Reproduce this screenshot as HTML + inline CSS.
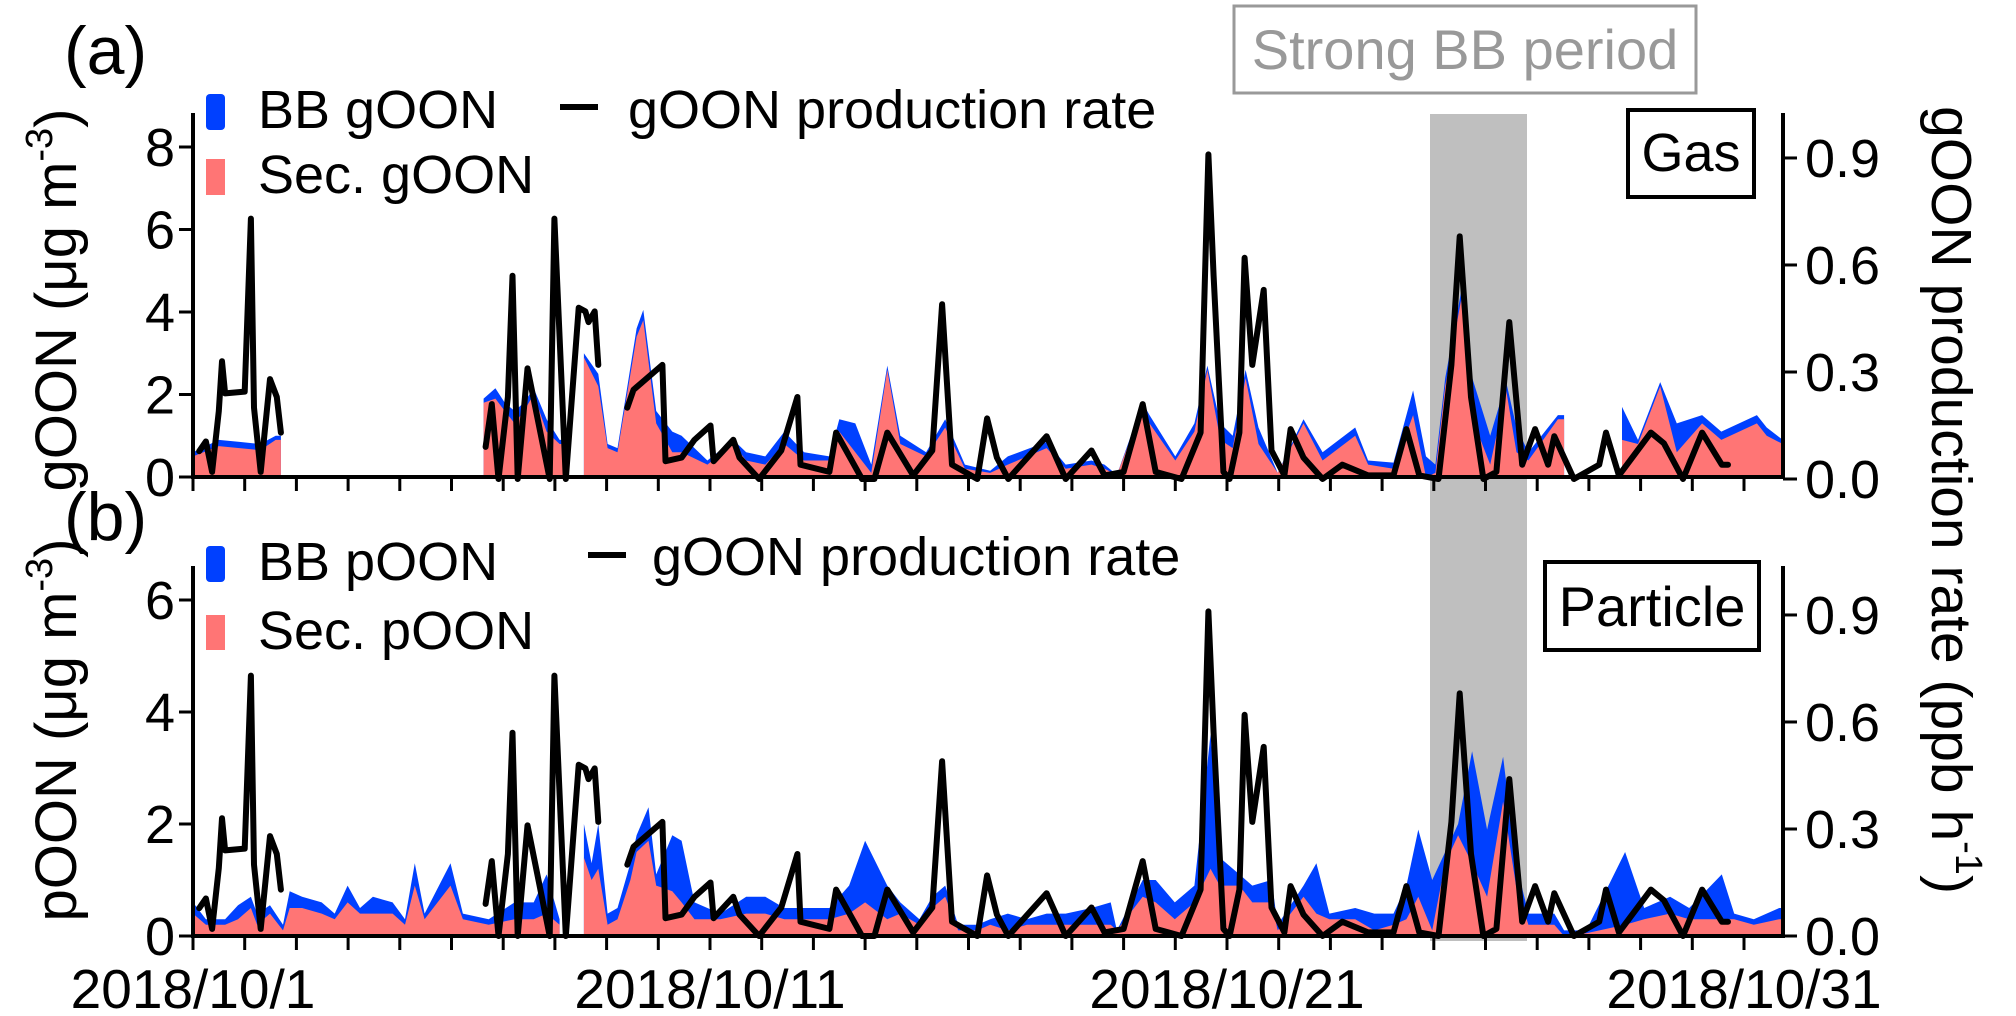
<!DOCTYPE html>
<html><head><meta charset="utf-8"><style>
html,body{margin:0;padding:0;background:#fff;}
svg{display:block;font-family:"Liberation Sans",Arial,sans-serif;}
</style></head><body>
<svg id="chart" width="2016" height="1016" viewBox="0 0 2016 1016" xmlns="http://www.w3.org/2000/svg">
<rect x="1430" y="114" width="97" height="827" fill="#bfbfbf"/>
<g id="areas"></g>
<g id="lines"></g>
<g id="axes"></g>
<g>
<rect x="1234" y="6" width="462" height="87" fill="#fff" stroke="#999" stroke-width="3"/>
<text x="1465" y="69" font-size="56" fill="#999" text-anchor="middle">Strong BB period</text>
</g>
<g>
<rect x="1628" y="110" width="126" height="87" fill="#fff" stroke="#000" stroke-width="4"/>
<text x="1691" y="171" font-size="54" text-anchor="middle">Gas</text>
</g>
<g>
<rect x="1545" y="562" width="214" height="88" fill="#fff" stroke="#000" stroke-width="4"/>
<text x="1652" y="626" font-size="56" text-anchor="middle">Particle</text>
</g>
<text x="64" y="74" font-size="68">(a)</text>
<text x="64" y="540" font-size="68">(b)</text>
<g>
<rect x="206" y="94" width="19" height="36" rx="4" fill="#0040ff"/>
<text x="258" y="128" font-size="54">BB gOON</text>
<rect x="206" y="159" width="19" height="36" fill="#ff7575"/>
<text x="258" y="193" font-size="54">Sec. gOON</text>
<rect x="560" y="104" width="38" height="6" fill="#000"/>
<text x="628" y="128" font-size="54">gOON production rate</text>
</g>
<g>
<rect x="206" y="546" width="19" height="36" rx="4" fill="#0040ff"/>
<text x="258" y="580" font-size="54">BB pOON</text>
<rect x="206" y="615" width="19" height="35" fill="#ff7575"/>
<text x="258" y="649" font-size="54">Sec. pOON</text>
<rect x="588" y="552" width="38" height="6" fill="#000"/>
<text x="652" y="575" font-size="54">gOON production rate</text>
</g>
<text transform="translate(76,300) rotate(-90)" font-size="58" text-anchor="middle">gOON (μg m<tspan dy="-24" font-size="38">-3</tspan><tspan dy="24">)</tspan></text>
<text transform="translate(76,730) rotate(-90)" font-size="58" text-anchor="middle">pOON (μg m<tspan dy="-24" font-size="38">-3</tspan><tspan dy="24">)</tspan></text>
<text transform="translate(1932,500) rotate(90)" font-size="57" text-anchor="middle">gOON production rate (ppb h<tspan dy="-24" font-size="38">-1</tspan><tspan dy="24">)</tspan></text>
</svg>
<script>
const gasDays=[0,0.5,0.9,1.3,1.6,1.7,null,5.62,5.85,6.03,6.22,6.4,6.59,6.84,7.09,7.21,null,7.56,7.84,8.02,8.21,8.58,8.71,8.96,9.27,9.45,9.95,10.45,10.7,11.07,11.44,11.82,12.31,12.5,12.81,13.12,13.43,13.68,14.18,14.55,14.93,15.42,15.76,16.51,16.88,17.38,17.63,17.87,18.37,18.5,19.0,19.37,19.62,19.87,20.11,20.36,20.61,20.98,21.48,21.85,22.48,22.73,23.22,23.6,23.85,24.03,24.22,24.53,24.72,25.09,25.4,25.6,25.83,26.4,26.52,null,27.64,27.95,28.38,28.7,29.19,29.56,30.25,30.44,30.75];
const gasTotal=[0.6,0.9,0.85,0.8,1.0,1.0,null,1.9,2.15,1.8,1.6,1.8,2.15,1.4,0.9,0.9,null,3.0,2.5,0.8,0.7,3.6,4.05,1.6,1.1,1.0,0.4,0.9,0.6,0.5,1.1,0.6,0.5,1.4,1.3,0.3,2.7,1.0,0.6,1.4,0.3,0.15,0.5,0.85,0.3,0.4,0.3,0.05,1.8,1.5,0.5,1.3,2.7,1.3,1.0,2.6,1.2,0.1,1.4,0.6,1.2,0.4,0.35,2.1,0.5,0.3,2.4,4.5,2.5,1.0,2.3,1.2,0.6,1.5,1.5,null,1.7,0.9,2.3,1.3,1.5,1.1,1.5,1.2,0.9];
const gasSec=[0.5,0.75,0.7,0.65,0.9,0.9,null,1.8,1.9,1.6,1.3,1.6,2.0,1.1,0.8,0.8,null,2.9,2.2,0.7,0.6,3.4,3.8,1.3,0.6,0.6,0.3,0.8,0.4,0.3,0.8,0.4,0.4,1.1,0.6,0.1,2.6,0.8,0.5,1.2,0.2,0.1,0.3,0.7,0.2,0.3,0.2,0.05,1.7,1.3,0.4,1.1,2.6,0.9,0.7,2.4,0.8,0.1,1.3,0.4,1.0,0.3,0.2,1.5,0.0,0.1,2.2,4.3,1.5,0.3,2.1,0.6,0.4,1.4,1.4,null,0.9,0.8,2.2,0.6,1.3,0.9,1.3,1.0,0.8];
const partDays=[0,0.25,0.62,0.87,1.12,1.24,1.49,1.74,1.87,2.11,2.49,2.74,2.99,3.23,3.48,3.86,4.1,4.29,4.48,4.98,5.22,5.72,6.22,6.59,6.84,7.09,null,7.56,7.71,7.84,8.02,8.21,8.46,8.58,8.81,8.96,9.27,9.45,9.7,10.2,10.7,11.07,11.44,11.82,12.31,12.69,13.0,13.43,13.68,14.05,14.3,14.55,14.8,15.17,15.42,15.76,16.13,16.51,16.88,17.38,17.75,17.87,18.37,18.62,18.99,19.37,19.68,19.86,20.24,20.49,20.86,20.98,21.48,21.73,21.98,22.48,22.85,23.22,23.47,23.7,23.97,24.22,24.47,24.74,25.03,25.34,25.59,25.83,26.33,26.52,26.95,27.7,28.07,28.57,28.94,29.57,29.81,30.19,30.68,30.75];
const partTotal=[0.6,0.3,0.3,0.55,0.7,0.4,0.55,0.2,0.8,0.7,0.6,0.4,0.9,0.5,0.7,0.6,0.3,1.3,0.4,1.3,0.4,0.3,0.6,0.6,1.1,0.3,null,2.0,1.3,2.0,0.4,0.5,1.3,1.8,2.3,1.1,1.8,1.7,0.6,0.4,0.7,0.7,0.5,0.5,0.5,0.9,1.7,0.9,0.6,0.3,0.7,0.9,0.2,0.2,0.3,0.4,0.3,0.4,0.4,0.5,0.6,0.1,1.0,1.0,0.6,0.9,3.6,1.4,1.1,0.9,1.0,0.2,0.9,1.3,0.4,0.5,0.4,0.4,0.9,1.9,1.0,1.5,2.0,3.3,1.9,3.2,1.3,0.4,0.4,0.1,0.1,1.5,0.5,0.7,0.5,1.1,0.4,0.3,0.5,0.5];
const partSec=[0.4,0.2,0.2,0.3,0.5,0.2,0.4,0.1,0.5,0.5,0.4,0.3,0.6,0.4,0.4,0.4,0.2,0.9,0.3,0.9,0.3,0.2,0.3,0.3,0.4,0.2,null,1.4,1.0,1.2,0.2,0.3,1.0,1.5,1.7,0.9,0.8,0.6,0.3,0.3,0.4,0.4,0.3,0.3,0.3,0.4,0.6,0.3,0.4,0.2,0.5,0.7,0.1,0.1,0.2,0.1,0.2,0.2,0.2,0.2,0.2,0.1,0.7,0.6,0.3,0.6,1.2,0.9,0.9,0.6,0.6,0.1,0.7,0.4,0.3,0.3,0.1,0.2,0.3,0.7,0.1,1.3,1.8,1.3,0.7,2.4,0.9,0.2,0.2,0.0,0.05,0.2,0.3,0.4,0.3,0.3,0.3,0.2,0.3,0.3];
const rateDays=[0.12,0.25,0.37,0.5,0.56,0.62,1.0,1.12,1.18,1.31,1.49,1.62,1.7,null,5.66,5.78,5.91,6.09,6.18,6.28,6.47,6.72,6.9,6.99,7.21,7.46,7.59,7.65,7.77,7.84,null,8.4,8.52,9.08,9.14,9.45,9.7,10.01,10.07,10.45,10.57,10.95,11.38,11.69,11.75,12.31,12.44,12.94,13.18,13.43,13.93,14.3,14.49,14.68,15.17,15.36,15.55,15.77,16.51,16.88,17.38,17.63,18.0,18.37,18.62,19.12,19.49,19.64,19.74,19.93,20.05,20.24,20.34,20.49,20.71,20.86,21.11,21.23,21.48,21.85,22.23,22.73,23.22,23.47,23.72,24.09,24.34,24.5,24.72,24.96,25.21,25.46,25.71,25.96,26.21,26.33,26.71,27.2,27.33,27.58,28.2,28.45,28.82,29.19,29.57,29.69];
const rateVals=[0.078,0.105,0.02,0.19,0.33,0.24,0.245,0.73,0.2,0.02,0.28,0.23,0.13,null,0.09,0.21,0.0,0.23,0.57,0.0,0.31,0.13,0.0,0.73,0.0,0.48,0.47,0.44,0.47,0.32,null,0.2,0.25,0.32,0.05,0.06,0.11,0.15,0.05,0.11,0.06,0.0,0.08,0.23,0.04,0.02,0.13,0.0,0.0,0.13,0.01,0.08,0.49,0.04,0.0,0.17,0.06,0.0,0.12,0.0,0.08,0.01,0.02,0.21,0.02,0.0,0.13,0.91,0.57,0.02,0.0,0.13,0.62,0.32,0.53,0.08,0.01,0.14,0.06,0.0,0.04,0.01,0.01,0.14,0.01,0.0,0.32,0.68,0.23,0.0,0.02,0.44,0.04,0.14,0.04,0.12,0.0,0.04,0.13,0.01,0.13,0.10,0.0,0.13,0.04,0.04];
const dayTicks=[0,1,2,3,4,5,6,7,8,9,10,11,12,13,14,15,16,17,18,19,20,21,22,23,24,25,26,27,28,29,30];
const dateLabels=["2018/10/1","2018/10/11","2018/10/21","2018/10/31"];
const dateLabelDays=[0,10,20,30];
const gasTicks=[0,2,4,6,8];
const partTicks=[0,2,4,6];
const rateTicks=[0.0,0.3,0.6,0.9];
const rateTickLabels=["0.0","0.3","0.6","0.9"];

const NS="http://www.w3.org/2000/svg";
const X0=193,DX=51.7,XEND=1783;
const xs=d=>X0+d*DX;
const panels=[
 {name:'gas',base:477,top:113,y:v=>477-v*41.25,r:v=>479-v*356.7,days:gasDays,tot:gasTotal,sec:gasSec,ticks:gasTicks},
 {name:'particle',base:936,top:566,y:v=>936-v*56,r:v=>936-v*356.7,days:partDays,tot:partTotal,sec:partSec,ticks:partTicks}
];
function mk(tag,attrs,parent){const e=document.createElementNS(NS,tag);for(const k in attrs)e.setAttribute(k,attrs[k]);parent.appendChild(e);return e;}
function segments(days,vals){const segs=[];let cur=[];for(let i=0;i<days.length;i++){if(days[i]===null||vals[i]===null){if(cur.length)segs.push(cur);cur=[];}else cur.push([days[i],vals[i]]);}if(cur.length)segs.push(cur);return segs;}
function areaPath(seg,y,base){let d='M'+xs(seg[0][0]).toFixed(1)+','+base;seg.forEach(p=>{d+='L'+xs(p[0]).toFixed(1)+','+y(p[1]).toFixed(1);});d+='L'+xs(seg[seg.length-1][0]).toFixed(1)+','+base+'Z';return d;}
const areas=document.getElementById('areas'),lines=document.getElementById('lines'),axes=document.getElementById('axes');
panels.forEach(p=>{
 segments(p.days,p.tot).forEach(s=>{
  const e=mk('path',{d:areaPath(s,p.y,p.base),fill:'#0040ff'},areas);
  
  
 });
 segments(p.days,p.sec).forEach(s=>{
  const e=mk('path',{d:areaPath(s,p.y,p.base),fill:'#ff7575'},areas);
  
  
 });
 segments(rateDays,rateVals).forEach(s=>{
  const d='M'+s.map(q=>xs(q[0]).toFixed(1)+','+p.r(q[1]).toFixed(1)).join('L');
  const e=mk('path',{d:d,fill:'none',stroke:'#000','stroke-width':6,'stroke-linejoin':'round','stroke-linecap':'round'},lines);
  
  
 });
 const ax=mk('path',{d:`M${X0},${p.top}V${p.base}H${XEND}V${p.top}`,fill:'none',stroke:'#000','stroke-width':4},axes);
 
 
 dayTicks.forEach(d=>{mk('line',{x1:xs(d),x2:xs(d),y1:p.base,y2:p.base+14,stroke:'#000','stroke-width':3},axes);});
 p.ticks.forEach(v=>{
  mk('line',{x1:X0-14,x2:X0,y1:p.y(v),y2:p.y(v),stroke:'#000','stroke-width':3},axes);
  const t=mk('text',{x:X0-18,y:p.y(v)+19,'font-size':54,'text-anchor':'end'},axes);t.textContent=v;
  
  
 });
 rateTicks.forEach((v,i)=>{
  mk('line',{x1:XEND,x2:XEND+14,y1:p.r(v),y2:p.r(v),stroke:'#000','stroke-width':3},axes);
  const t=mk('text',{x:XEND+22,y:p.r(v)+19,'font-size':54},axes);t.textContent=rateTickLabels[i];
  
  
 });
});
dateLabels.forEach((l,i)=>{
 const t=mk('text',{x:xs(dateLabelDays[i]),y:1008,'font-size':55,'text-anchor':'middle'},axes);t.textContent=l;
 
 
});
</script>
</body></html>
